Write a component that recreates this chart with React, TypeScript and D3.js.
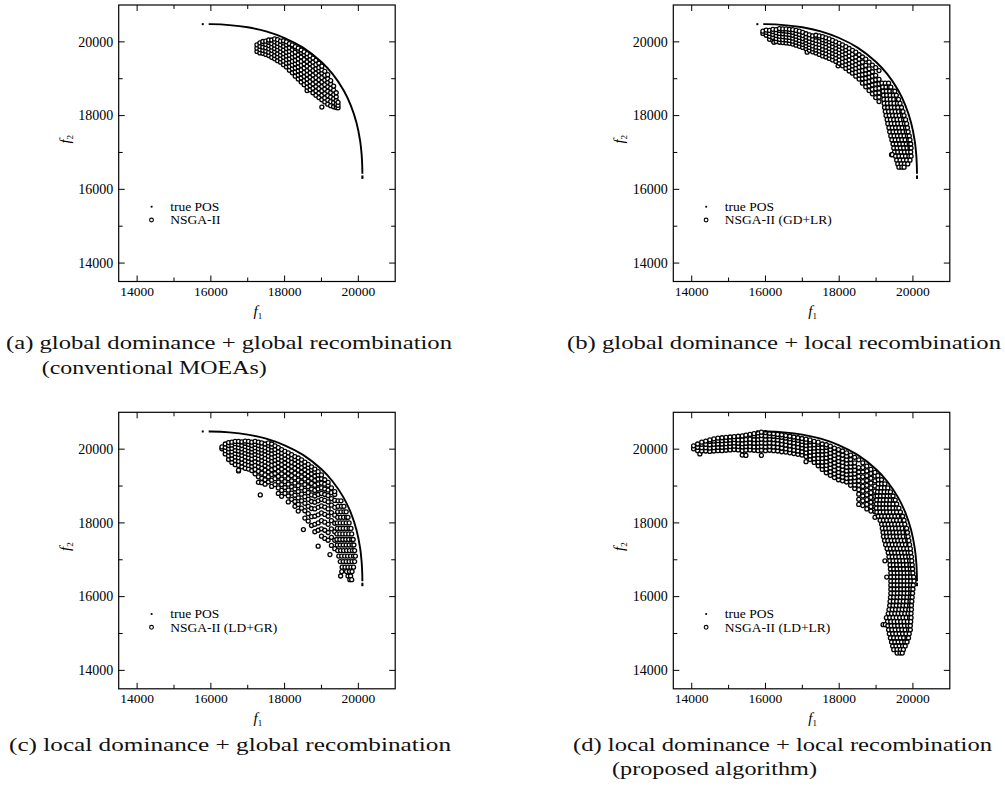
import React from "react";
import * as d3 from "d3";

// ---------------- data ----------------
const X_DOMAIN: [number, number] = [13500, 21000];
const Y_DOMAIN: [number, number] = [13500, 21000];
const MAJOR_TICKS = [14000, 16000, 18000, 20000];
const MINOR_TICKS = [15000, 17000, 19000];

// true Pareto-optimal set (read along the drawn front)
const truePOSCurve: [number, number][] = [
  [15940, 20480], [16000, 20480], [16500, 20455], [17000, 20395], [17500, 20285],
  [18000, 20105], [18500, 19845], [19000, 19455], [19300, 19130], [19600, 18685],
  [19800, 18265], [19950, 17805], [20050, 17310], [20090, 16940], [20105, 16660],
  [20110, 16420],
];
const truePOSDots: [number, number][] = [[15780, 20480], [20110, 16350], [20110, 16310]];

// NSGA-II populations: columns [f1, f2 values]  /  rows [f2, f1 values]
const aCols: [number, number[]][] = [
  [17250, [19740, 19830, 19920]],
  [17330, [19700, 19790, 19880, 19970]],
  [17410, [19690, 19770, 19860, 19950, 20010]],
  [17490, [19660, 19750, 19840, 19930, 20020]],
  [17570, [19630, 19720, 19810, 19900, 19990, 20050]],
  [17650, [19580, 19680, 19770, 19860, 19950, 20050]],
  [17730, [19540, 19630, 19730, 19820, 19910, 20000, 20080]],
  [17810, [19490, 19590, 19680, 19780, 19870, 19960, 20060]],
  [17890, [19450, 19540, 19640, 19730, 19830, 19920, 20020]],
  [17970, [19380, 19480, 19580, 19680, 19780, 19880, 19970, 20030]],
  [18050, [19320, 19420, 19520, 19620, 19720, 19820, 19920, 20000]],
  [18130, [19230, 19330, 19440, 19540, 19640, 19740, 19840, 19950]],
  [18210, [19160, 19270, 19370, 19470, 19580, 19680, 19790, 19890, 19920]],
  [18290, [19070, 19180, 19290, 19400, 19500, 19610, 19720, 19830, 19870]],
  [18370, [18990, 19100, 19210, 19320, 19430, 19540, 19650, 19770, 19830]],
  [18450, [18910, 19020, 19130, 19240, 19360, 19470, 19590, 19710, 19780]],
  [18530, [18840, 18950, 19060, 19170, 19290, 19400, 19520, 19650, 19730]],
  [18610, [18680, 18770, 18880, 18990, 19110, 19220, 19340, 19460, 19590, 19680]],
  [18690, [18700, 18810, 18920, 19040, 19160, 19280, 19400, 19520, 19620]],
  [18770, [18620, 18740, 18860, 18980, 19100, 19220, 19340, 19450, 19560]],
  [18850, [18550, 18670, 18790, 18910, 19030, 19150, 19270, 19380, 19500]],
  [18930, [18490, 18610, 18730, 18850, 18970, 19090, 19210, 19300, 19420]],
  [19010, [18230, 18430, 18550, 18670, 18790, 18910, 19030, 19150, 19240, 19340]],
  [19090, [18370, 18480, 18600, 18720, 18840, 18960, 19090, 19200]],
  [19170, [18310, 18420, 18540, 18660, 18780, 18900, 19000, 19110]],
  [19250, [18270, 18380, 18500, 18620, 18740, 18850, 18950]],
  [19330, [18240, 18350, 18460, 18570, 18690, 18800]],
  [19400, [18220, 18310, 18410, 18510, 18620]],
  [19450, [18210, 18280, 18360]],
];
const aRows: [number, number[]][] = [];

const bCols: [number, number[]][] = [
  [15930, [20230, 20290]],
  [16020, [20180, 20260, 20320]],
  [16110, [20070, 20150, 20230, 20310]],
  [16200, [20040, 20120, 20200, 20280, 20340]],
  [16230, [19990]],
  [16290, [20010, 20090, 20170, 20250, 20330]],
  [16380, [19990, 20070, 20150, 20230, 20310, 20360]],
  [16470, [19980, 20060, 20140, 20220, 20300, 20350]],
  [16560, [19970, 20050, 20130, 20210, 20290, 20350]],
  [16650, [19960, 20040, 20120, 20200, 20280, 20340]],
  [16740, [19940, 20020, 20100, 20180, 20260, 20330]],
  [16830, [19910, 19990, 20070, 20150, 20230, 20310]],
  [16920, [19880, 19960, 20040, 20120, 20200, 20290]],
  [17010, [19850, 19930, 20010, 20090, 20170, 20260]],
  [17100, [19810, 19890, 19970, 20050, 20130, 20220]],
  [17130, [19720]],
  [17190, [19770, 19850, 19930, 20010, 20100, 20190]],
  [17280, [19730, 19810, 19890, 19980, 20070, 20160]],
  [17370, [19700, 19780, 19860, 19950, 20040, 20130, 20180]],
  [17460, [19660, 19750, 19840, 19930, 20020, 20110, 20160]],
  [17550, [19620, 19710, 19800, 19890, 19980, 20060, 20140]],
  [17640, [19590, 19680, 19770, 19860, 19950, 20030, 20110]],
  [17730, [19550, 19640, 19730, 19820, 19910, 20000, 20080]],
  [17820, [19510, 19600, 19690, 19780, 19870, 19960, 20040]],
  [17910, [19470, 19560, 19650, 19740, 19830, 19920, 20000]],
  [17970, [19350]],
  [18000, [19420, 19510, 19610, 19700, 19790, 19880, 19960]],
  [18090, [19350, 19450, 19550, 19650, 19740, 19830, 19920]],
  [18180, [19280, 19380, 19480, 19580, 19680, 19780, 19870]],
  [18270, [19210, 19310, 19410, 19510, 19620, 19720, 19820]],
  [18360, [19150, 19250, 19350, 19450, 19560, 19660, 19770]],
  [18450, [19070, 19170, 19280, 19380, 19490, 19590, 19720]],
  [18540, [18990, 19100, 19200, 19310, 19420, 19530, 19650]],
  [18630, [18880, 19000, 19110, 19220, 19330, 19450, 19590]],
  [18720, [18780, 18900, 19010, 19130, 19240, 19360, 19530]],
  [18810, [18680, 18800, 18920, 19040, 19150, 19270, 19450]],
  [18900, [18590, 18710, 18830, 18950, 19070, 19190, 19370]],
  [18990, [18490, 18610, 18730, 18850, 18970, 19090, 19300]],
  [19080, [18380, 18500, 18620, 18740, 18860, 18980, 19220]],
];
const bRows: [number, number[]][] = [
  [18880, [19160, 19250, 19340]],
  [18770, [19180, 19270, 19360, 19400]],
  [18660, [19190, 19280, 19370, 19460, 19510]],
  [18550, [19200, 19290, 19380, 19470, 19550]],
  [18440, [19210, 19300, 19390, 19480, 19570, 19610]],
  [18330, [19220, 19310, 19400, 19490, 19580, 19650]],
  [18220, [19230, 19320, 19410, 19500, 19590, 19690]],
  [18110, [19250, 19340, 19430, 19520, 19610, 19700, 19730]],
  [18000, [19270, 19360, 19450, 19540, 19630, 19720, 19760]],
  [17890, [19300, 19390, 19480, 19570, 19660, 19750, 19800]],
  [17780, [19320, 19410, 19500, 19590, 19680, 19770, 19830]],
  [17670, [19350, 19440, 19530, 19620, 19710, 19800, 19850]],
  [17560, [19370, 19460, 19550, 19640, 19730, 19820, 19870]],
  [17450, [19400, 19490, 19580, 19670, 19760, 19850, 19900]],
  [17340, [19430, 19520, 19610, 19700, 19790, 19880, 19920]],
  [17230, [19460, 19550, 19640, 19730, 19820, 19900, 19940]],
  [17120, [19480, 19570, 19660, 19750, 19840, 19920, 19950]],
  [17010, [19500, 19590, 19680, 19770, 19860, 19940]],
  [16940, [19420, 19440]],
  [16900, [19530, 19620, 19710, 19800, 19890, 19950]],
  [16790, [19560, 19650, 19740, 19830, 19920]],
  [16690, [19590, 19680, 19770, 19860]],
  [16600, [19620, 19700, 19760]],
];

const cCols: [number, number[]][] = [
  [16300, [20010, 20060]],
  [16390, [19870, 19960, 20050, 20140]],
  [16480, [19720, 19820, 19920, 20010, 20100, 20180]],
  [16570, [19640, 19740, 19840, 19930, 20020, 20110, 20190]],
  [16660, [19580, 19690, 19790, 19880, 19970, 20060, 20150, 20210]],
  [16750, [19410, 19430, 19560, 19670, 19770, 19860, 19950, 20040, 20130, 20210]],
  [16840, [19520, 19630, 19730, 19830, 19920, 20010, 20100, 20200]],
  [16930, [19480, 19590, 19690, 19790, 19890, 19980, 20070, 20160, 20220]],
  [17020, [19460, 19560, 19660, 19760, 19860, 19950, 20040, 20130, 20210]],
  [17110, [19420, 19530, 19630, 19730, 19830, 19920, 20010, 20100, 20190]],
  [17200, [19330, 19450, 19560, 19660, 19760, 19860, 19950, 20040, 20130, 20210]],
  [17290, [19100, 19250, 19400, 19520, 19630, 19730, 19830, 19920, 20010, 20100, 20190]],
  [17340, [18760]],
  [17380, [19090, 19210, 19350, 19480, 19590, 19690, 19790, 19890, 19980, 20070, 20170]],
  [17470, [19050, 19170, 19300, 19430, 19550, 19650, 19750, 19850, 19950, 20040, 20140]],
  [17560, [19110, 19250, 19380, 19500, 19610, 19710, 19810, 19910, 20000, 20100, 20170]],
  [17650, [18990, 19160, 19310, 19440, 19560, 19670, 19770, 19870, 19970, 20060, 20140]],
  [17740, [19040, 19200, 19340, 19470, 19590, 19700, 19800, 19900, 19990, 20090]],
  [17830, [18800, 18950, 19110, 19260, 19400, 19520, 19630, 19730, 19830, 19930, 20040]],
  [17920, [18720, 18880, 19040, 19190, 19330, 19460, 19580, 19690, 19790, 19890, 19990]],
  [18010, [18800, 18960, 19120, 19270, 19400, 19520, 19630, 19740, 19840, 19940]],
  [18100, [18570, 18730, 18890, 19050, 19200, 19340, 19460, 19580, 19690, 19800, 19900]],
  [18190, [18640, 18810, 18980, 19140, 19280, 19410, 19530, 19640, 19750, 19850]],
  [18280, [18450, 18580, 18750, 18920, 19080, 19220, 19350, 19480, 19600, 19710, 19800]],
  [18370, [18320, 18500, 18680, 18850, 19010, 19160, 19300, 19430, 19550, 19660, 19760]],
  [18460, [18400, 18600, 18780, 18950, 19110, 19250, 19380, 19500, 19610, 19710]],
  [18510, [17820]],
  [18550, [18130, 18330, 18530, 18710, 18880, 19040, 19190, 19320, 19440, 19550, 19650]],
  [18640, [18050, 18250, 18450, 18640, 18820, 18980, 19130, 19270, 19390, 19500, 19590]],
  [18730, [17930, 18170, 18390, 18580, 18760, 18920, 19070, 19210, 19330, 19440, 19520]],
  [18820, [17760, 17960, 18180, 18380, 18560, 18730, 18880, 19020, 19150, 19270, 19380, 19460]],
  [18910, [17370, 17800, 18000, 18220, 18420, 18600, 18770, 18920, 19060, 19190, 19300, 19390]],
  [19000, [17640, 17840, 18060, 18270, 18460, 18640, 18800, 18950, 19080, 19200, 19300]],
  [19090, [17580, 17800, 18020, 18230, 18430, 18610, 18770, 18920, 19050, 19170]],
  [19180, [17530, 17740, 17960, 18180, 18380, 18570, 18740, 18890, 19020, 19100]],
  [19230, [17140]],
  [19270, [17390, 17610, 17840, 18060, 18280, 18480, 18660, 18820, 18950]],
  [19360, [17300, 17530, 17760, 17990, 18210, 18420, 18610, 18770, 18850]],
];
const cRows: [number, number[]][] = [
  [18600, [19450, 19530]],
  [18450, [19450, 19540, 19610]],
  [18300, [19440, 19530, 19610, 19670]],
  [18150, [19440, 19520, 19600, 19680, 19720]],
  [18000, [19430, 19510, 19590, 19670, 19750]],
  [17850, [19430, 19510, 19590, 19670, 19750, 19800]],
  [17700, [19420, 19500, 19580, 19660, 19740, 19820]],
  [17550, [19420, 19500, 19580, 19660, 19740, 19820, 19860]],
  [17400, [19430, 19510, 19590, 19670, 19750, 19830, 19880]],
  [17250, [19440, 19520, 19600, 19680, 19760, 19840, 19900]],
  [17100, [19470, 19550, 19630, 19710, 19790, 19870, 19920]],
  [16950, [19510, 19590, 19670, 19750, 19830, 19900]],
  [16800, [19560, 19640, 19720, 19800, 19870]],
  [16680, [19550, 19680, 19760, 19830]],
  [16560, [19520, 19720, 19790]],
  [16460, [19770, 19820]],
];

const dCols: [number, number[]][] = [
  [14050, [20010, 20090]],
  [14160, [19960, 20050, 20140]],
  [14220, [19870]],
  [14270, [19950, 20040, 20130, 20190]],
  [14380, [19950, 20040, 20130, 20220]],
  [14490, [19940, 20030, 20120, 20210, 20250]],
  [14600, [19950, 20040, 20130, 20220, 20280]],
  [14710, [19960, 20050, 20140, 20230, 20300]],
  [14820, [19960, 20050, 20140, 20230, 20310]],
  [14930, [19970, 20060, 20150, 20240, 20320]],
  [15040, [19980, 20070, 20160, 20250, 20330]],
  [15150, [19990, 20080, 20170, 20260, 20340]],
  [15260, [19980, 20070, 20160, 20250, 20350]],
  [15370, [19840, 19960, 20060, 20150, 20250, 20360]],
  [15470, [19830, 19970, 20070, 20160, 20260, 20380]],
  [15580, [19980, 20070, 20170, 20270, 20400]],
  [15690, [19970, 20060, 20160, 20260, 20360, 20420]],
  [15800, [19960, 20060, 20160, 20260, 20360, 20440]],
  [15890, [19830, 19970, 20070, 20170, 20270, 20370, 20460]],
  [16000, [19960, 20060, 20160, 20260, 20360, 20450]],
  [16110, [19970, 20070, 20170, 20270, 20360, 20430]],
  [16220, [19960, 20060, 20160, 20260, 20350, 20420]],
  [16330, [19950, 20050, 20150, 20250, 20340, 20400]],
  [16440, [19930, 20030, 20130, 20230, 20320, 20390]],
  [16550, [19920, 20010, 20110, 20210, 20300, 20370]],
  [16660, [19900, 19990, 20090, 20190, 20280, 20350]],
  [16770, [19880, 19970, 20070, 20170, 20260, 20330]],
  [16880, [19860, 19950, 20050, 20150, 20240, 20310]],
  [16990, [19840, 19930, 20030, 20120, 20210, 20290]],
  [17100, [19660, 19800, 19900, 20000, 20100, 20190, 20270]],
  [17210, [19720, 19820, 19920, 20020, 20110, 20200, 20250]],
  [17320, [19640, 19740, 19840, 19940, 20030, 20120, 20210]],
  [17430, [19550, 19650, 19750, 19850, 19950, 20040, 20130, 20190]],
  [17540, [19450, 19550, 19650, 19750, 19850, 19950, 20040, 20140]],
  [17650, [19360, 19460, 19560, 19660, 19760, 19860, 19960, 20050, 20120]],
  [17760, [19290, 19390, 19490, 19590, 19690, 19790, 19890, 19990, 20080]],
  [17870, [19230, 19330, 19430, 19530, 19630, 19730, 19830, 19930, 20030]],
  [17980, [19170, 19270, 19370, 19470, 19570, 19670, 19770, 19870, 19990]],
  [18090, [19140, 19240, 19340, 19440, 19540, 19640, 19740, 19840, 19950]],
  [18200, [19110, 19210, 19310, 19410, 19510, 19610, 19710, 19810, 19900]],
  [18310, [19020, 19120, 19220, 19320, 19420, 19520, 19620, 19720, 19840]],
  [18420, [18930, 19030, 19130, 19230, 19330, 19430, 19530, 19630, 19780]],
  [18530, [18500, 18640, 18780, 18900, 19020, 19140, 19260, 19380, 19500, 19710]],
  [18640, [18470, 18600, 18730, 18860, 18990, 19120, 19250, 19380, 19500, 19630]],
  [18750, [18380, 18500, 18630, 18760, 18890, 19020, 19150, 19280, 19410, 19540]],
  [18860, [18320, 18440, 18560, 18690, 18820, 18950, 19080, 19210, 19340, 19450]],
  [18970, [18150, 18300, 18440, 18580, 18720, 18860, 19000, 19140, 19270, 19370]],
];
const dRows: [number, number[]][] = [
  [19280, [19050]],
  [19170, [19060, 19150]],
  [19060, [19060, 19150, 19240]],
  [18950, [19050, 19140, 19230, 19320]],
  [18840, [19040, 19130, 19220, 19310, 19390]],
  [18730, [19030, 19120, 19210, 19300, 19390, 19460]],
  [18620, [19020, 19110, 19200, 19290, 19380, 19470, 19520]],
  [18510, [19010, 19100, 19190, 19280, 19370, 19460, 19560]],
  [18400, [19010, 19100, 19190, 19280, 19370, 19460, 19550, 19620]],
  [18290, [19020, 19110, 19200, 19290, 19380, 19470, 19560, 19660]],
  [18180, [19060, 19150, 19240, 19330, 19420, 19510, 19600, 19690, 19720]],
  [18070, [19110, 19200, 19290, 19380, 19470, 19560, 19650, 19740, 19760]],
  [17960, [19150, 19240, 19330, 19420, 19510, 19600, 19690, 19780]],
  [17850, [19170, 19260, 19350, 19440, 19530, 19620, 19710, 19800, 19830]],
  [17740, [19190, 19280, 19370, 19460, 19550, 19640, 19730, 19820, 19850]],
  [17630, [19200, 19290, 19380, 19470, 19560, 19650, 19740, 19830, 19870]],
  [17520, [19230, 19320, 19410, 19500, 19590, 19680, 19770, 19860, 19890]],
  [17410, [19260, 19350, 19440, 19530, 19620, 19710, 19800, 19890, 19910]],
  [17300, [19300, 19390, 19480, 19570, 19660, 19750, 19840, 19930]],
  [17190, [19330, 19420, 19510, 19600, 19690, 19780, 19870, 19940]],
  [17080, [19350, 19440, 19530, 19620, 19710, 19800, 19890, 19960]],
  [16970, [19240, 19370, 19460, 19550, 19640, 19730, 19820, 19910, 19970]],
  [16860, [19380, 19470, 19560, 19650, 19740, 19830, 19920, 19980]],
  [16750, [19390, 19480, 19570, 19660, 19750, 19840, 19930, 19990]],
  [16640, [19400, 19490, 19580, 19670, 19760, 19850, 19940, 20000]],
  [16530, [19290, 19400, 19490, 19580, 19670, 19760, 19850, 19940, 20020]],
  [16420, [19400, 19490, 19580, 19670, 19760, 19850, 19940, 20030]],
  [16310, [19400, 19490, 19580, 19670, 19760, 19850, 19940, 20010]],
  [16200, [19400, 19490, 19580, 19670, 19760, 19850, 19940, 20000]],
  [16090, [19400, 19490, 19580, 19670, 19760, 19850, 19940, 19990]],
  [15980, [19390, 19480, 19570, 19660, 19750, 19840, 19930, 19980]],
  [15870, [19380, 19470, 19560, 19650, 19740, 19830, 19920, 19970]],
  [15760, [19370, 19460, 19550, 19640, 19730, 19820, 19910, 19960]],
  [15650, [19350, 19440, 19530, 19620, 19710, 19800, 19890, 19960]],
  [15540, [19330, 19420, 19510, 19600, 19690, 19780, 19870, 19950]],
  [15430, [19280, 19370, 19460, 19550, 19640, 19730, 19820, 19910, 19950]],
  [15320, [19310, 19400, 19490, 19580, 19670, 19760, 19850, 19940]],
  [15240, [19190, 19250]],
  [15210, [19320, 19410, 19500, 19590, 19680, 19770, 19860, 19930]],
  [15100, [19340, 19430, 19520, 19610, 19700, 19790, 19880, 19930]],
  [14990, [19360, 19450, 19540, 19630, 19720, 19810, 19900]],
  [14880, [19390, 19480, 19570, 19660, 19750, 19840, 19880]],
  [14770, [19420, 19510, 19600, 19690, 19780, 19840]],
  [14660, [19450, 19540, 19630, 19720, 19790]],
  [14560, [19480, 19570, 19660, 19740]],
  [14470, [19570, 19650, 19710]],
];

const legendLabels = ["NSGA-II", "NSGA-II (GD+LR)", "NSGA-II (LD+GR)", "NSGA-II (LD+LR)"];
const captions: string[][] = [
  ["(a) global dominance + global recombination", "(conventional MOEAs)"],
  ["(b) global dominance + local recombination"],
  ["(c) local dominance + global recombination"],
  ["(d) local dominance + local recombination", "(proposed algorithm)"],
];

// ---------------- layout ----------------
const SIZE = 276.5;
const SERIF = "Liberation Serif, Times New Roman, serif";
const panelLayout = [
  { left: 118.7, top: 5, cols: aCols, rows: aRows, cap: [{ x: 6, y: 349, w: 446 }, { x: 41.7, y: 374, w: 225 }] },
  { left: 673.3, top: 5, cols: bCols, rows: bRows, cap: [{ x: 567, y: 349, w: 434 }] },
  { left: 118.7, top: 412.3, cols: cCols, rows: cRows, cap: [{ x: 9, y: 751, w: 442 }] },
  { left: 673.3, top: 412.3, cols: dCols, rows: dRows, cap: [{ x: 573, y: 751, w: 419 }, { x: 612, y: 775, w: 205 }] },
];

function toPoints(cols: [number, number[]][], rows: [number, number[]][]): [number, number][] {
  const p: [number, number][] = [];
  cols.forEach(([x, ys]) => ys.forEach((y) => p.push([x, y])));
  rows.forEach(([y, xs]) => xs.forEach((x) => p.push([x, y])));
  return p;
}

function Panel({ idx }: { idx: number }) {
  const L = panelLayout[idx];
  const x = d3.scaleLinear().domain(X_DOMAIN).range([0, SIZE]);
  const y = d3.scaleLinear().domain(Y_DOMAIN).range([SIZE, 0]);
  const pts = toPoints(L.cols, L.rows);
  const line = d3
    .line<[number, number]>()
    .x((d) => x(d[0]))
    .y((d) => y(d[1]))
    .curve(d3.curveCatmullRom.alpha(0.5));
  const majorLen = 6;
  const minorLen = 4;
  const ticks = [
    ...MAJOR_TICKS.map((v) => ({ v, len: majorLen })),
    ...MINOR_TICKS.map((v) => ({ v, len: minorLen })),
  ];
  return (
    <g transform={`translate(${L.left},${L.top})`}>
      {/* population */}
      <g>
        {pts.map((d, i) => (
          <circle key={i} cx={x(d[0])} cy={y(d[1])} r={2} fill="#fff" stroke="#000" strokeWidth={1.3} />
        ))}
      </g>
      {/* true POS */}
      <path d={line(truePOSCurve) || ""} fill="none" stroke="#000" strokeWidth={1.9} />
      {truePOSDots.map((d, i) => (
        <rect key={i} x={x(d[0]) - 1} y={y(d[1]) - 1} width={2} height={2} fill="#000" />
      ))}
      {/* frame */}
      <rect x={0} y={0} width={SIZE} height={SIZE} fill="none" stroke="#000" strokeWidth={1.2} />
      {ticks.map(({ v, len }, i) => (
        <g key={"t" + i} stroke="#000" strokeWidth={1}>
          <line x1={x(v)} x2={x(v)} y1={SIZE} y2={SIZE - len} />
          <line x1={x(v)} x2={x(v)} y1={0} y2={len} />
          <line x1={0} x2={len} y1={y(v)} y2={y(v)} />
          <line x1={SIZE} x2={SIZE - len} y1={y(v)} y2={y(v)} />
        </g>
      ))}
      {MAJOR_TICKS.map((v) => (
        <text key={"xl" + v} x={x(v)} y={SIZE + 14.5} textAnchor="middle" fontFamily={SERIF} fontSize={13.5}>
          {v}
        </text>
      ))}
      {MAJOR_TICKS.map((v) => (
        <text key={"yl" + v} x={-5.5} y={y(v) + 4.8} textAnchor="end" fontFamily={SERIF} fontSize={14}>
          {v}
        </text>
      ))}
      {/* axis titles */}
      <text x={SIZE / 2 + 1} y={SIZE + 34} textAnchor="middle" fontFamily={SERIF} fontSize={15} fontStyle="italic">
        f<tspan fontStyle="normal" fontSize={9} dy={3}>1</tspan>
      </text>
      <text
        transform={`translate(-49,${SIZE / 2 - 4}) rotate(-90)`}
        textAnchor="middle"
        fontFamily={SERIF}
        fontSize={15}
        fontStyle="italic"
      >
        f<tspan fontStyle="normal" fontSize={9} dy={3}>2</tspan>
      </text>
      {/* legend */}
      <rect x={32} y={201.7 - 0.9} width={1.8} height={1.8} fill="#000" />
      <text x={51.5} y={201.7 + 4.3} fontFamily={SERIF} fontSize={13.5}>true POS</text>
      <circle cx={32.8} cy={215} r={1.9} fill="#fff" stroke="#000" strokeWidth={1.1} />
      <text x={51.5} y={215 + 4.3} fontFamily={SERIF} fontSize={13.5}>{legendLabels[idx]}</text>
    </g>
  );
}

export default function App() {
  return (
    <svg
      width={1005}
      height={796}
      viewBox="0 0 1005 796"
      style={{ position: "absolute", left: 0, top: 0, background: "#fff" }}
    >
      <rect x={0} y={0} width={1005} height={796} fill="#fff" />
      {panelLayout.map((_, i) => (
        <Panel key={i} idx={i} />
      ))}
      {panelLayout.map((L, i) =>
        L.cap.map((c, j) => (
          <text
            key={`cap${i}-${j}`}
            x={c.x}
            y={c.y}
            fontFamily={SERIF}
            fontSize={19}
            textLength={c.w}
            lengthAdjust="spacingAndGlyphs"
            fill="#111"
          >
            {captions[i][j]}
          </text>
        ))
      )}
    </svg>
  );
}
